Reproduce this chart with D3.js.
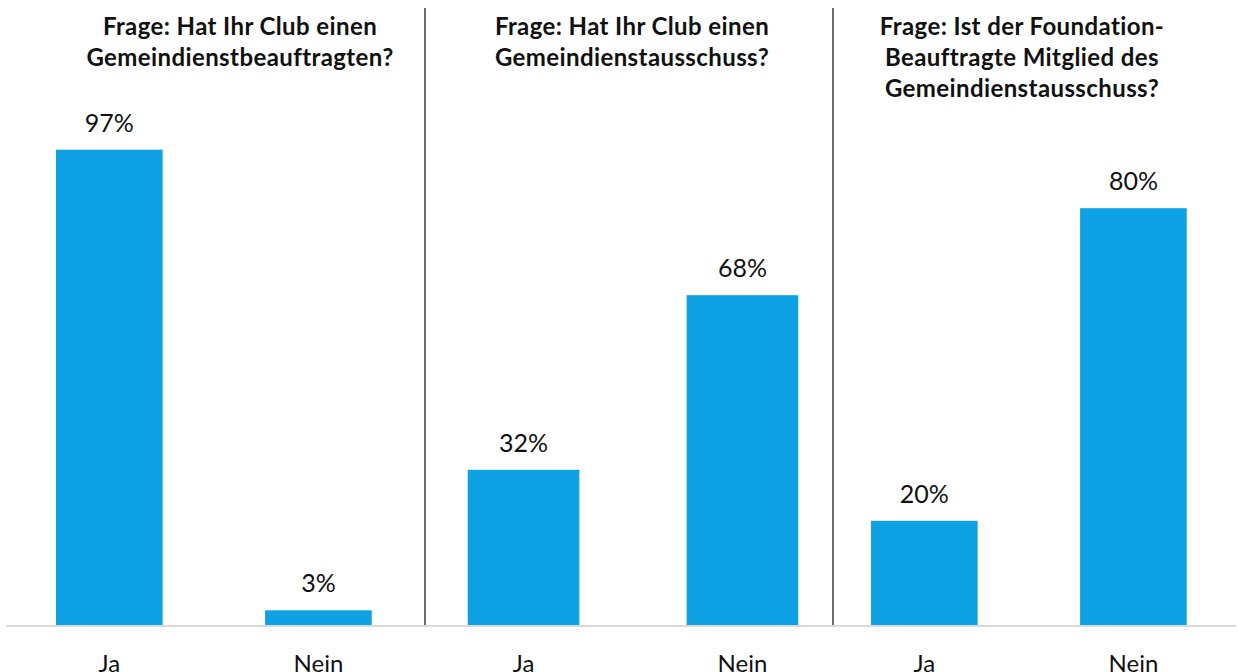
<!DOCTYPE html>
<html>
<head>
<meta charset="utf-8">
<script src="https://cdn.jsdelivr.net/npm/d3@7"></script>
<style>
  html, body { margin: 0; padding: 0; background: #ffffff; }
  svg { display: block; }
</style>
</head>
<body>
<svg id="chart" width="1238" height="672"></svg>
<script>
// Survey answers, one small bar chart per question
const categories = ["Ja", "Nein"];
const questions = [
  ["Frage: Hat Ihr Club einen", "Gemeindienstbeauftragten?"],
  ["Frage: Hat Ihr Club einen", "Gemeindienstausschuss?"],
  ["Frage: Ist der Foundation-", "Beauftragte Mitglied des", "Gemeindienstausschuss?"]
];
const valuesQ1 = [97, 3];
const valuesQ2 = [32, 68];
const valuesQ3 = [20, 80];
const seriesValues = [valuesQ1, valuesQ2, valuesQ3];

// Layout of the three panels (each panel has its own value axis)
const panels = [
  { left: 3.75,  right: 424,  plotHeight: 490, titleX: 240 },
  { left: 413,   right: 853,  plotHeight: 485, titleX: 632 },
  { left: 818.75, right: 1239, plotHeight: 521, titleX: 1022 }
];
const baseY = 625;
const barColor = "#0ea1e3";
const font = "Lato, 'Open Sans', sans-serif";

const svg = d3.select("#chart");

panels.forEach((p, i) => {
  const g = svg.append("g");
  const x = d3.scaleBand()
    .domain(categories)
    .range([p.left, p.right])
    .paddingInner(0.49)
    .paddingOuter(0.25);
  const y = d3.scaleLinear()
    .domain([0, 100])
    .range([baseY, baseY - p.plotHeight]);

  const data = categories.map((c, k) => ({ cat: c, val: seriesValues[i][k] }));

  g.selectAll("rect.bar")
    .data(data)
    .join("rect")
    .attr("class", "bar")
    .attr("x", d => x(d.cat))
    .attr("width", x.bandwidth())
    .attr("y", d => y(d.val))
    .attr("height", d => baseY - y(d.val))
    .attr("fill", barColor);

  g.selectAll("text.val")
    .data(data)
    .join("text")
    .attr("class", "val")
    .attr("x", d => x(d.cat) + x.bandwidth() / 2)
    .attr("y", d => y(d.val) - 18)
    .attr("text-anchor", "middle")
    .attr("font-family", font)
    .attr("font-size", 25)
    .attr("fill", "#111")
    .text(d => d.val + "%");

  // category axis labels
  const axis = d3.axisBottom(x).tickSize(0).tickPadding(0);
  const ax = g.append("g")
    .attr("transform", `translate(0,${baseY})`)
    .call(axis);
  ax.select(".domain").remove();
  ax.selectAll("text")
    .attr("font-family", font)
    .attr("font-size", 24)
    .attr("fill", "#111")
    .attr("dy", null)
    .attr("y", 47);

  // question title
  const t = g.append("text")
    .attr("x", p.titleX)
    .attr("y", 35)
    .attr("text-anchor", "middle")
    .attr("font-family", font)
    .attr("font-weight", "bold")
    .attr("font-size", 24)
    .attr("letter-spacing", 0.4)
    .attr("fill", "#111");
  t.selectAll("tspan")
    .data(questions[i])
    .join("tspan")
    .attr("x", p.titleX)
    .attr("dy", (d, k) => k === 0 ? 0 : 31)
    .text(d => d);
});

// baseline across all panels
svg.append("line")
  .attr("x1", 6).attr("x2", 1236)
  .attr("y1", baseY + 1).attr("y2", baseY + 1)
  .attr("stroke", "#d9d9d9")
  .attr("stroke-width", 2);

// separators between panels
[425, 833].forEach(xv => {
  svg.append("line")
    .attr("x1", xv).attr("x2", xv)
    .attr("y1", 8).attr("y2", baseY)
    .attr("stroke", "#3a3a3a")
    .attr("stroke-width", 1.5);
});
</script>
</body>
</html>
